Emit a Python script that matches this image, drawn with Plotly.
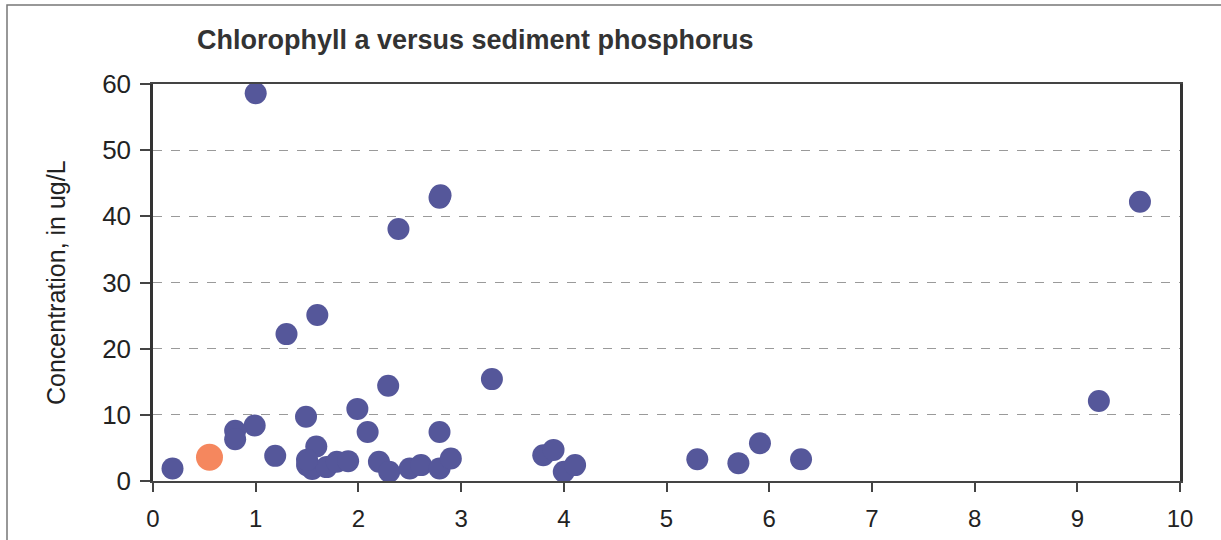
import plotly.graph_objects as go

# Sediment phosphorus (x) and chlorophyll a concentration (y, ug/L)
phosphorus = [1.0, 2.79, 2.8, 2.39, 1.6, 1.3, 3.3, 2.29, 1.99, 1.49, 0.99, 0.8, 0.8,
              2.09, 2.79, 1.19, 0.19, 1.59, 1.5, 1.55, 1.69, 1.79, 1.9, 1.5,
              2.2, 2.3, 2.5, 2.61, 2.79, 2.9, 3.8, 3.9, 4.0, 4.11,
              5.3, 5.7, 5.91, 6.31, 9.61, 9.21]
chlorophyll = [58.6, 42.8, 43.2, 38.1, 25.1, 22.2, 15.4, 14.4, 10.9, 9.7, 8.4, 7.6, 6.3,
               7.4, 7.4, 3.8, 1.9, 5.2, 2.4, 1.8, 2.1, 2.9, 3.0, 3.2,
               2.9, 1.4, 1.9, 2.4, 1.9, 3.4, 3.9, 4.7, 1.4, 2.4,
               3.3, 2.7, 5.7, 3.3, 42.2, 12.1]

# Highlighted sample
hi_phosphorus = [0.55]
hi_chlorophyll = [3.6]

title_text = "Chlorophyll a versus sediment phosphorus"
y_title = "Concentration, in ug/L"

W, H = 1221, 540
L, R, T, B = 153, 1180, 84, 481
pw, ph = R - L, B - T

fig = go.Figure()
fig.add_trace(go.Scatter(
    x=phosphorus, y=chlorophyll, mode="markers",
    marker=dict(size=22, color="#55579a", line=dict(width=0)),
    showlegend=False, cliponaxis=False))
fig.add_trace(go.Scatter(
    x=hi_phosphorus, y=hi_chlorophyll, mode="markers",
    marker=dict(size=27, color="#f5875e", line=dict(width=0)),
    showlegend=False, cliponaxis=False))

fig.update_layout(
    width=W, height=H,
    margin=dict(l=L, r=W - R, t=T, b=H - B, autoexpand=False),
    paper_bgcolor="white", plot_bgcolor="white",
    font=dict(family="Liberation Sans, Arial, sans-serif", color="#222222"),
    title=dict(text="<b>" + title_text + "</b>", x=197 / W, xanchor="left",
               y=1 - 40 / H, yanchor="middle",
               font=dict(size=27, color="#333333")),
    xaxis=dict(range=[0, 10], tickmode="linear", tick0=0, dtick=1,
               showgrid=False, zeroline=False,
               showline=True, linecolor="#444444", linewidth=2, mirror=True,
               ticks="outside", ticklen=9, tickwidth=1.5, tickcolor="#444444",
               ticklabelstandoff=6,
               tickfont=dict(size=24, color="#222222")),
    yaxis=dict(range=[0, 60], tickmode="linear", tick0=0, dtick=10,
               showgrid=True, gridcolor="#9a9a9a", griddash="dash", gridwidth=1,
               zeroline=False,
               showline=True, linecolor="#333333", linewidth=2.5, mirror=True,
               ticks="outside", ticklen=10, tickwidth=1.5, tickcolor="#444444",
               ticklabelstandoff=4,
               tickfont=dict(size=26, color="#222222")),
    annotations=[dict(text=y_title, xref="paper", yref="paper",
                      x=(56 - L) / pw, y=(B - 283) / ph, xanchor="center",
                      yanchor="middle", textangle=-90, showarrow=False,
                      font=dict(size=25, color="#222222"))],
    shapes=[dict(type="rect", xref="paper", yref="paper",
                 x0=(7 - L) / pw, x1=(1230 - L) / pw,
                 y0=(B - 550) / ph, y1=(B - 5) / ph,
                 line=dict(color="#777777", width=1.5), fillcolor="rgba(0,0,0,0)",
                 layer="below")],
)

fig.write_html("out.html",
               config={"displayModeBar": False},
               post_script="document.body.style.margin='0';document.body.style.overflow='hidden';")
